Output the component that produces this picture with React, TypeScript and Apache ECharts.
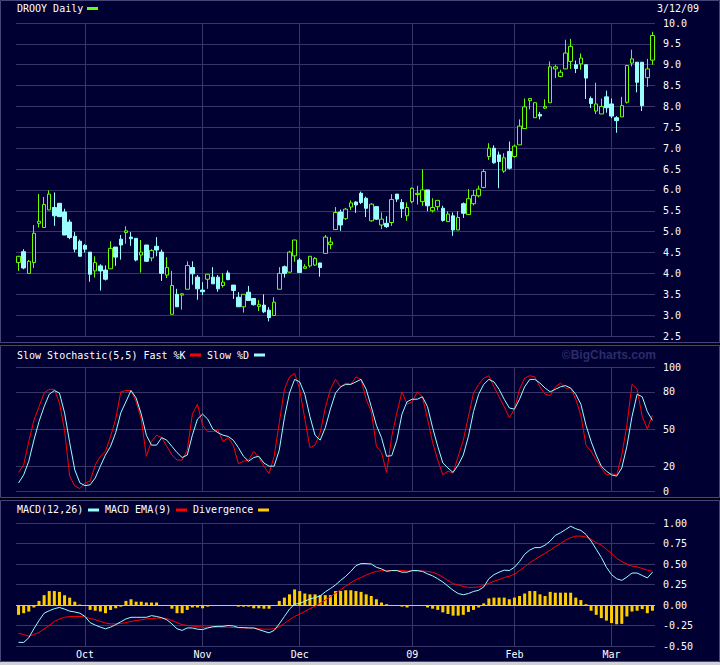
import React, { useEffect, useRef } from "react";
import * as echarts from "echarts";

// ---- categories (trading days) ----
const SEP_08 = [12, 15, 16, 17, 18, 19, 22, 23, 24, 25, 26, 29, 30];
const OCT_08 = [1, 2, 3, 6, 7, 8, 9, 10, 13, 14, 15, 16, 17, 20, 21, 22, 23, 24, 27, 28, 29, 30, 31];
const NOV_08 = [3, 4, 5, 6, 7, 10, 11, 12, 13, 14, 17, 18, 19, 20, 21, 24, 25, 26, 28];
const DEC_08 = [1, 2, 3, 4, 5, 8, 9, 10, 11, 12, 15, 16, 17, 18, 19, 22, 23, 24, 26, 29, 30, 31];
const JAN_09 = [2, 5, 6, 7, 8, 9, 12, 13, 14, 15, 16, 20, 21, 22, 23, 26, 27, 28, 29, 30];
const FEB_09 = [2, 3, 4, 5, 6, 9, 10, 11, 12, 13, 17, 18, 19, 20, 23, 24, 25, 26, 27];
const MAR_09 = [2, 3, 4, 5, 6, 9, 10, 11, 12];

const MONTH_START_DATES = ["2008-10-01", "2008-11-03", "2008-12-01", "2009-01-02", "2009-02-02", "2009-03-02"];
const MONTH_LABELS = ["Oct", "Nov", "Dec", "09", "Feb", "Mar"];

// ---- price candles: [open, close, low, high] ----
const CANDLES = [
  [4.26, 4.41, 4.06, 4.42], [4.52, 4.13, 4.10, 4.58], [4.00, 4.29, 4.00, 4.32], [4.26, 4.96, 4.13, 5.16],
  [5.20, 5.25, 5.10, 5.90], [5.10, 5.65, 5.10, 5.83], [5.52, 5.90, 5.52, 5.99], [5.58, 5.38, 5.14, 5.94],
  [5.68, 5.36, 5.35, 5.68], [5.47, 4.92, 4.92, 5.55], [5.23, 4.86, 4.82, 5.29], [4.89, 4.58, 4.51, 4.99],
  [4.77, 4.41, 4.41, 4.81], [4.67, 4.58, 4.50, 4.70], [4.51, 3.98, 3.80, 4.51], [4.06, 4.26, 3.90, 4.41],
  [4.18, 4.06, 3.59, 4.22], [4.08, 3.86, 3.83, 4.19], [4.11, 4.60, 4.11, 4.77], [4.63, 4.39, 4.18, 4.63],
  [4.82, 4.68, 4.33, 4.92], [4.98, 5.02, 4.71, 5.13], [4.87, 4.83, 4.66, 4.99], [4.84, 4.32, 4.29, 4.84],
  [4.44, 4.51, 4.02, 4.80], [4.68, 4.29, 4.28, 4.68], [4.37, 4.55, 4.29, 4.58], [4.65, 4.56, 4.41, 4.87],
  [4.51, 4.00, 3.82, 4.57], [3.96, 4.14, 3.89, 4.39], [3.02, 3.71, 3.02, 4.06], [3.50, 3.20, 3.20, 3.63],
  [3.48, 3.51, 3.13, 3.53], [3.62, 4.19, 3.62, 4.29], [4.14, 3.99, 3.73, 4.29], [3.91, 3.63, 3.37, 3.96],
  [3.60, 3.56, 3.48, 3.79], [3.86, 3.98, 3.63, 3.98], [3.91, 3.75, 3.75, 4.15], [3.91, 3.63, 3.56, 3.96],
  [3.71, 3.79, 3.66, 4.01], [4.01, 3.85, 3.85, 4.07], [3.72, 3.59, 3.39, 3.72], [3.43, 3.20, 3.20, 3.55],
  [3.20, 3.50, 3.06, 3.50], [3.55, 3.35, 3.35, 3.70], [3.40, 3.25, 3.23, 3.40], [3.21, 3.25, 3.10, 3.36],
  [3.24, 3.08, 3.05, 3.50], [3.12, 2.94, 2.85, 3.19], [2.99, 3.31, 2.98, 3.43], [3.62, 4.00, 3.62, 4.15],
  [4.16, 4.00, 3.90, 4.19], [4.03, 4.51, 4.02, 4.54], [4.42, 4.80, 4.28, 4.80], [4.32, 4.02, 4.02, 4.37],
  [4.12, 4.16, 4.12, 4.22], [4.18, 4.41, 4.14, 4.41], [4.20, 4.36, 4.18, 4.39], [4.25, 4.14, 3.92, 4.25],
  [4.48, 4.87, 4.48, 4.92], [4.69, 4.75, 4.58, 4.87], [5.05, 5.46, 5.05, 5.59], [5.47, 5.16, 5.02, 5.53],
  [5.31, 5.54, 5.28, 5.57], [5.59, 5.69, 5.52, 5.75], [5.71, 5.64, 5.45, 5.73], [5.92, 5.70, 5.66, 5.96],
  [5.80, 5.56, 5.35, 5.84], [5.26, 5.66, 5.24, 5.68], [5.60, 5.30, 5.28, 5.60], [5.16, 5.30, 5.06, 5.46],
  [5.20, 5.12, 5.09, 5.37], [5.22, 5.77, 5.14, 5.90], [5.90, 5.78, 5.71, 5.90], [5.70, 5.55, 5.33, 5.78],
  [5.38, 5.58, 5.26, 5.70], [5.72, 6.04, 5.68, 6.06], [5.89, 5.92, 5.65, 6.10], [5.72, 6.00, 5.62, 6.49],
  [6.00, 5.62, 5.49, 6.00], [5.50, 5.58, 5.46, 5.80], [5.60, 5.75, 5.51, 5.75], [5.56, 5.27, 5.24, 5.62],
  [5.24, 5.42, 5.24, 5.49], [5.38, 5.04, 4.90, 5.46], [5.04, 5.34, 5.04, 5.49], [5.67, 5.44, 5.33, 5.70],
  [5.41, 5.79, 5.41, 6.02], [5.67, 5.87, 5.63, 6.00], [5.86, 6.02, 5.82, 6.10], [6.06, 6.44, 6.04, 6.50],
  [6.80, 7.00, 6.72, 7.12], [7.00, 6.65, 6.63, 7.07], [6.84, 6.68, 6.04, 6.92], [6.45, 6.77, 6.41, 6.88],
  [6.92, 6.52, 6.49, 7.16], [6.80, 7.05, 6.77, 7.09], [7.08, 7.53, 7.08, 7.69], [7.47, 7.99, 7.47, 8.19],
  [8.14, 8.19, 7.93, 8.19], [7.73, 8.09, 7.73, 8.09], [7.81, 7.77, 7.69, 7.87], [7.96, 8.00, 7.94, 8.17],
  [8.09, 8.95, 8.09, 9.08], [8.90, 8.95, 8.68, 9.00], [8.72, 8.82, 8.70, 8.88], [8.90, 9.28, 8.90, 9.60],
  [9.08, 9.44, 8.90, 9.62], [9.00, 8.91, 8.80, 9.10], [9.02, 9.16, 8.88, 9.27], [9.00, 8.68, 8.18, 9.00],
  [8.19, 8.07, 7.96, 8.24], [7.89, 8.06, 7.82, 8.57], [7.82, 8.00, 7.82, 8.19], [8.23, 7.97, 7.85, 8.38],
  [8.06, 7.77, 7.72, 8.19], [7.73, 7.66, 7.37, 7.77], [7.75, 8.02, 7.75, 8.23], [8.10, 8.98, 8.07, 8.98],
  [9.04, 9.14, 8.96, 9.36], [9.06, 8.58, 8.34, 9.06], [9.06, 8.02, 7.89, 9.06], [8.69, 8.90, 8.47, 9.14],
  [9.11, 9.70, 9.00, 9.79],
];

// ---- slow stochastic ----
const FAST_K = [
  15, 21, 40, 57, 68, 79, 82, 82, 71, 49,
  12, 4, 2, 6.5, 8, 21, 28, 32, 44, 58,
  80, 81, 81, 72, 58, 28, 40, 45, 43, 36,
  29, 25, 25, 33, 62, 70, 53, 48, 48, 49,
  40, 43, 37, 22, 24, 25, 32, 27, 20, 14,
  28, 55, 82, 92, 95, 82, 58, 35, 37, 47,
  67, 82, 90, 84, 87, 86, 92, 90,
  74, 64, 36, 31, 15, 44, 63, 80, 70, 72,
  80, 76, 58, 39, 25, 13, 16, 14.5, 28, 41,
  60, 79, 86, 91, 93, 84, 76, 68, 59, 66,
  82, 91, 93, 92, 84, 78, 77, 84, 87, 83,
  83, 74, 61, 37, 32, 25, 18.5, 13, 14, 13,
  29, 53, 86, 82, 60, 50, 61,
];
const SLOW_D = [
  6.5, 13, 24, 41, 56, 68, 78, 81, 79, 63,
  39, 17, 6.5, 4.3, 5, 10.5, 20, 29, 36, 47,
  63, 72, 81, 75, 62, 45, 37, 37, 43, 41,
  36, 31, 27, 29, 45, 58, 62, 58, 50, 47,
  45, 44, 41, 35, 28, 24, 27, 28, 22.6, 20,
  20, 33, 59, 79, 90, 88, 78, 60, 45, 41,
  51, 66, 79, 84, 86, 86, 88,
  90, 82, 68, 53, 43, 28, 28.5, 41, 62, 72, 74,
  74, 76, 68, 51, 36, 22.6, 18.5, 15, 21, 29,
  44, 64, 78, 86, 90, 88, 82, 74, 67, 66,
  74, 84, 90, 90, 87, 83, 80, 82, 84, 85,
  83, 78, 70, 53, 40, 29, 20, 16, 13, 12,
  18.5, 36, 60, 78, 76, 64, 57,
];
const STOCH_TICKS = [0, 20, 50, 80, 100];

// ---- MACD ----
const MACD_LINE = [
  -0.455, -0.457, -0.40, -0.29, -0.19, -0.10, -0.07, -0.045, -0.03, -0.05,
  -0.075, -0.085, -0.10, -0.14, -0.215, -0.245, -0.27, -0.29, -0.27, -0.24,
  -0.205, -0.17, -0.15, -0.15, -0.15, -0.15, -0.13, -0.14, -0.155, -0.18,
  -0.23, -0.29, -0.31, -0.28, -0.28, -0.295, -0.30, -0.28, -0.265, -0.26,
  -0.26, -0.25, -0.255, -0.275, -0.275, -0.28, -0.28, -0.30, -0.32, -0.34,
  -0.31, -0.23, -0.14, -0.05, 0.01, 0.02, 0.045, 0.075, 0.09, 0.11,
  0.16, 0.20, 0.245, 0.30, 0.35, 0.41, 0.48,
  0.505, 0.505, 0.50, 0.46, 0.44, 0.41, 0.42, 0.42, 0.40, 0.40,
  0.42, 0.42, 0.41, 0.38, 0.355, 0.32, 0.28, 0.23, 0.18, 0.14,
  0.125, 0.14, 0.165, 0.18, 0.22, 0.32, 0.37, 0.40, 0.425, 0.42,
  0.46, 0.53, 0.62, 0.67, 0.70, 0.70, 0.73, 0.78, 0.85, 0.88,
  0.92, 0.96, 0.93, 0.91, 0.86, 0.78, 0.68, 0.58, 0.46, 0.37,
  0.32, 0.30, 0.34, 0.39, 0.39, 0.36, 0.33, 0.40,
];
const MACD_EMA = [
  -0.345, -0.36, -0.38, -0.36, -0.335, -0.29, -0.25, -0.20, -0.17, -0.15,
  -0.14, -0.14, -0.14, -0.145, -0.165, -0.18, -0.20, -0.22, -0.23, -0.23,
  -0.225, -0.215, -0.20, -0.19, -0.18, -0.17, -0.165, -0.16, -0.16, -0.165,
  -0.19, -0.215, -0.24, -0.25, -0.255, -0.265, -0.27, -0.27, -0.27, -0.27,
  -0.27, -0.27, -0.275, -0.275, -0.28, -0.28, -0.28, -0.29, -0.295, -0.295,
  -0.29, -0.265, -0.225, -0.18, -0.14, -0.11, -0.08, -0.045, -0.015, 0.02,
  0.06, 0.10, 0.145, 0.185, 0.23, 0.27, 0.31,
  0.335, 0.365, 0.39, 0.41, 0.42, 0.42, 0.42, 0.42, 0.42, 0.415,
  0.415, 0.415, 0.415, 0.41, 0.40, 0.375, 0.34, 0.30, 0.26, 0.245,
  0.225, 0.215, 0.215, 0.22, 0.24, 0.265, 0.29, 0.31, 0.335, 0.35,
  0.375, 0.42, 0.465, 0.515, 0.555, 0.595, 0.63, 0.67, 0.71, 0.75,
  0.79, 0.82, 0.84, 0.84, 0.83, 0.80, 0.76, 0.73, 0.68, 0.63,
  0.57, 0.53, 0.50, 0.475, 0.465, 0.445, 0.425, 0.41,
];
const DIVERGENCE = [
  -0.12, -0.10, -0.08, -0.03, 0.05, 0.12, 0.17, 0.17, 0.16, 0.12,
  0.09, 0.04, 0.005, 0, -0.06, -0.07, -0.08, -0.10, -0.06, -0.04,
  -0.02, 0.05, 0.07, 0.04, 0.04, 0.03, 0.03, 0.03, 0, -0.01,
  -0.045, -0.10, -0.10, -0.06, -0.03, -0.03, -0.04, -0.02, 0, 0,
  0, -0.01, -0.01, -0.02, -0.02, -0.02, -0.04, -0.04, -0.045, -0.045,
  -0.01, 0.05, 0.09, 0.13, 0.19, 0.17, 0.14, 0.13, 0.13, 0.12,
  0.12, 0.12, 0.17, 0.17, 0.18, 0.18, 0.17,
  0.16, 0.13, 0.11, 0.07, 0.03, 0.01, 0, 0, -0.02, -0.03,
  0, 0, 0, -0.03, -0.045, -0.06, -0.09, -0.11, -0.13, -0.13,
  -0.12, -0.085, -0.06, -0.03, 0.02, 0.08, 0.09, 0.09, 0.09, 0.07,
  0.09, 0.11, 0.14, 0.17, 0.17, 0.13, 0.11, 0.16, 0.15, 0.15,
  0.15, 0.15, 0.09, 0.06, 0.01, -0.07, -0.12, -0.16, -0.19, -0.22,
  -0.235, -0.23, -0.14, -0.08, -0.07, -0.05, -0.10, -0.07,
];

const MONTH_DAYS: [string, number[]][] = [
  ["2008-09", SEP_08], ["2008-10", OCT_08], ["2008-11", NOV_08], ["2008-12", DEC_08],
  ["2009-01", JAN_09], ["2009-02", FEB_09], ["2009-03", MAR_09],
];
const DATES: string[] = [];
MONTH_DAYS.forEach(([m, days]) => days.forEach((d) => DATES.push(`${m}-${String(d).padStart(2, "0")}`)));

const BG = "#000033";
const GRID_C = "#37376a";
const BORDER = "#45457a";
const GREEN = "#66ff00";
const CYAN = "#99ffff";
const RED = "#ff0000";
const GOLD = "#ffcc00";
const MONO = '"DejaVu Sans Mono", monospace';

const LEFT = 16;
const RIGHT = 65;

function monthLines(extra: any[] = []) {
  return {
    silent: true,
    z: 1,
    symbol: ["none", "none"],
    label: { show: false },
    emphasis: { disabled: true },
    animation: false,
    lineStyle: { color: GRID_C, width: 1, type: "solid" },
    data: [...MONTH_START_DATES.map((d) => ({ xAxis: d })), ...extra],
  };
}

function textEl(text: string, x: number, y: number, extra: any = {}) {
  return {
    type: "text",
    x,
    y,
    silent: true,
    style: { text, fill: "#ffffff", font: `10px ${MONO}`, verticalAlign: "middle", align: "left", ...extra },
  };
}
function swatch(x: number, y: number, color: string) {
  return { type: "rect", silent: true, shape: { x, y, width: 11, height: 3 }, style: { fill: color } };
}

export default function App() {
  const ref = useRef<HTMLDivElement>(null);
  useEffect(() => {
    if (!ref.current) return;
    const chart = echarts.init(ref.current, null, { renderer: "svg" });
    const xBase = (gridIndex: number) => ({
      type: "category",
      gridIndex,
      data: DATES,
      boundaryGap: true,
      axisLine: { show: false },
      axisTick: { show: false },
      splitLine: { show: false },
      axisLabel: { show: false },
    });
    const yLabel = { color: "#ffffff", fontFamily: MONO, fontSize: 10, margin: 8 };
    const option: any = {
      animation: false,
      backgroundColor: BG,
      grid: [
        { left: LEFT, right: RIGHT, top: 23, height: 313 },
        { left: LEFT, right: RIGHT, top: 367, height: 124 },
        { left: LEFT, right: RIGHT, top: 523, height: 123 },
      ],
      xAxis: [
        xBase(0),
        xBase(1),
        {
          ...xBase(2),
          axisLabel: {
            show: true,
            color: "#ffffff",
            fontFamily: MONO,
            fontSize: 10,
            margin: 3,
            interval: (_i: number, v: string) => MONTH_START_DATES.includes(v),
            formatter: (v: string) => {
              const k = MONTH_START_DATES.indexOf(v);
              return k >= 0 ? MONTH_LABELS[k] : "";
            },
          },
        },
      ],
      yAxis: [
        {
          type: "value",
          gridIndex: 0,
          position: "right",
          min: 2.5,
          max: 10,
          interval: 0.5,
          axisLine: { show: false },
          axisTick: { show: false },
          splitLine: { show: true, lineStyle: { color: GRID_C, width: 1 } },
          axisLabel: { ...yLabel, formatter: (v: number) => v.toFixed(1) },
        },
        {
          type: "value",
          gridIndex: 1,
          position: "right",
          min: 0,
          max: 100,
          interval: 10,
          axisLine: { show: false },
          axisTick: { show: false },
          splitLine: { show: false },
          axisLabel: {
            ...yLabel,
            formatter: (v: number) => (STOCH_TICKS.includes(Math.round(v)) ? String(Math.round(v)) : ""),
          },
        },
        {
          type: "value",
          gridIndex: 2,
          position: "right",
          min: -0.5,
          max: 1,
          interval: 0.25,
          axisLine: { show: false },
          axisTick: { show: false },
          splitLine: { show: true, lineStyle: { color: GRID_C, width: 1 } },
          axisLabel: { ...yLabel, formatter: (v: number) => v.toFixed(2) },
        },
      ],
      series: [
        {
          type: "candlestick",
          name: "DROOY",
          xAxisIndex: 0,
          yAxisIndex: 0,
          data: CANDLES,
          barWidth: 4,
          silent: true,
          itemStyle: {
            color: BG,
            color0: CYAN,
            borderColor: GREEN,
            borderColor0: CYAN,
            borderWidth: 1,
          },
          markLine: monthLines(),
        },
        {
          type: "line",
          name: "Fast %K",
          xAxisIndex: 1,
          yAxisIndex: 1,
          data: FAST_K,
          showSymbol: false,
          symbol: "none",
          silent: true,
          lineStyle: { color: RED, width: 1 },
          markLine: monthLines(
            STOCH_TICKS.map((v) => ({ yAxis: v }))
          ),
        },
        {
          type: "line",
          name: "Slow %D",
          xAxisIndex: 1,
          yAxisIndex: 1,
          data: SLOW_D,
          showSymbol: false,
          symbol: "none",
          silent: true,
          lineStyle: { color: CYAN, width: 1 },
        },
        {
          type: "bar",
          name: "Divergence",
          xAxisIndex: 2,
          yAxisIndex: 2,
          data: DIVERGENCE,
          barWidth: 3,
          silent: true,
          itemStyle: { color: GOLD },
          markLine: monthLines([{ yAxis: 0, lineStyle: { color: GOLD, width: 1, type: "solid" } }]),
        },
        {
          type: "line",
          name: "MACD EMA(9)",
          xAxisIndex: 2,
          yAxisIndex: 2,
          data: MACD_EMA,
          showSymbol: false,
          symbol: "none",
          silent: true,
          lineStyle: { color: RED, width: 1 },
        },
        {
          type: "line",
          name: "MACD(12,26)",
          xAxisIndex: 2,
          yAxisIndex: 2,
          data: MACD_LINE,
          showSymbol: false,
          symbol: "none",
          silent: true,
          lineStyle: { color: CYAN, width: 1 },
        },
      ],
      graphic: [
        // panel frames
        { type: "rect", silent: true, shape: { x: 0.5, y: 0.5, width: 719, height: 342 }, style: { fill: "none", stroke: BORDER, lineWidth: 1 } },
        { type: "rect", silent: true, shape: { x: 0, y: 343.5, width: 720, height: 2 }, style: { fill: "#000008" } },
        { type: "rect", silent: true, shape: { x: 0.5, y: 345.5, width: 719, height: 152 }, style: { fill: "none", stroke: BORDER, lineWidth: 1 } },
        { type: "rect", silent: true, shape: { x: 0, y: 498, width: 720, height: 2.5 }, style: { fill: "#000008" } },
        { type: "rect", silent: true, shape: { x: 0.5, y: 500.5, width: 719, height: 161 }, style: { fill: "none", stroke: BORDER, lineWidth: 1 } },
        { type: "rect", silent: true, shape: { x: 0, y: 662, width: 720, height: 3 }, style: { fill: "#d0d0d8" } },
        // main title
        textEl("DROOY Daily", 17, 8.5),
        swatch(87, 7, GREEN),
        textEl("3/12/09", 657, 8.5),
        // stochastic title
        textEl("Slow Stochastic(5,5) Fast %K", 17, 355),
        swatch(190, 353.5, RED),
        textEl("Slow %D", 207, 355),
        swatch(254, 353.5, CYAN),
        {
          type: "text",
          x: 656,
          y: 354.5,
          silent: true,
          style: {
            text: "\u00a9BigCharts.com",
            fill: "#2c2c68",
            font: 'bold 12px "Liberation Sans", Arial, sans-serif',
            align: "right",
            verticalAlign: "middle",
          },
        },
        // MACD title
        textEl("MACD(12,26)", 17, 509),
        swatch(88, 508.5, CYAN),
        textEl("MACD EMA(9)", 105, 509),
        swatch(176, 508.5, RED),
        textEl("Divergence", 193, 509),
        swatch(258, 508.5, GOLD),
      ],
    };
    chart.setOption(option);
    return () => chart.dispose();
  }, []);
  return (
    <div style={{ position: "fixed", left: 0, top: 0, width: 720, height: 665, background: "#ffffff" }}>
      <div ref={ref} style={{ width: 720, height: 665 }} />
    </div>
  );
}
